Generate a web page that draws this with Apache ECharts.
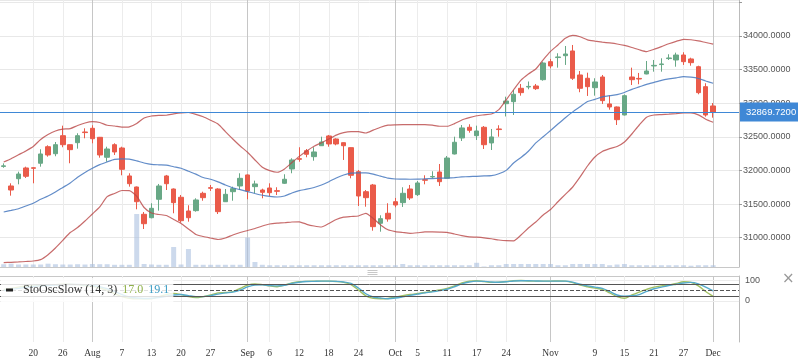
<!DOCTYPE html>
<html><head><meta charset="utf-8">
<script src="https://cdn.jsdelivr.net/npm/echarts@6/dist/echarts.min.js"></script>
<style>html,body{margin:0;padding:0;background:#fff}#c{width:798px;height:363px}</style>
</head><body><div id="c"></div>
<script>
// ---- data ----
const tickLabels = {4:'20',8:'26',12:'Aug',16:'7',20:'13',24:'20',28:'27',33:'Sep',36:'6',40:'12',44:'18',48:'24',53:'Oct',56:'5',60:'11',64:'17',68:'24',74:'Nov',80:'9',84:'15',88:'21',92:'27',96:'Dec'};
const slotCount = 100;
const categories = Array.from({length: slotCount}, (_, i) => tickLabels[i] || '');

const opens = [32060,31769,31877,32037,32040,32107,32353,32249,32517,32383,
32413,32572,32627,32493,32196,32383,32334,31918,31754,31348,
31297,31571,31918,31724,31601,31397,31402,31660,31744,31724,
31535,31684,31769,31933,31759,31709,31739,31699,31809,32022,
32175,32294,32205,32368,32513,32468,32413,32339,31982,31684,
31784,31214,31363,31535,31521,31724,31640,31863,31903,31977,
31883,32245,32483,32642,32517,32642,32409,32617,32993,33023,
33222,33241,33256,33350,33618,33679,33707,33777,33420,33371,
33231,33390,32989,32944,32825,33390,33369,33435,33554,33575,
33664,33643,33717,33658,33543,33246,32959];
const closes = [32068,31709,31947,31913,32032,32245,32230,32383,32383,32309,
32517,32563,32472,32230,32319,32275,32017,31803,31535,31208,
31437,31769,31803,31521,31253,31297,31561,31595,31735,31387,
31645,31729,31883,31695,31799,31675,31669,31690,31869,32156,
32166,32240,32275,32423,32394,32394,32368,31928,31620,31595,
31164,31283,31278,31486,31660,31591,31814,31854,31910,31833,
32185,32419,32632,32597,32587,32383,32498,32608,33033,33133,
33157,33250,33216,33598,33554,33688,33732,33371,33222,33246,
33316,33038,32944,32755,33112,33350,33360,33479,33563,33584,
33673,33717,33618,33603,33157,32825,32869.72];
const highs = [32105,31809,31982,32056,32047,32315,32374,32423,32666,32386,
32553,32627,32672,32498,32353,32404,32353,31958,31761,31382,
31512,31799,31933,31732,31635,31482,31586,31684,31784,31735,
31724,31759,31958,31940,31848,31729,31809,31750,31943,32181,
32345,32319,32345,32502,32528,32478,32416,32342,32007,31709,
31799,31333,31512,31591,31750,31784,31843,31928,31988,32096,
32215,32502,32676,32687,32666,32661,32617,32672,33097,33197,
33286,33323,33286,33618,33658,33743,33851,33866,33479,33454,
33371,33420,33112,32951,33130,33529,33450,33628,33643,33668,
33728,33752,33758,33677,33558,33297,33003];
const lows = [32040,31625,31794,31888,31809,32056,32205,32211,32345,32107,
32324,32478,32404,32190,32130,32230,31928,31759,31422,31129,
31288,31402,31709,31363,31223,31238,31387,31550,31695,31352,
31531,31550,31709,31571,31660,31586,31620,31635,31799,31958,
32130,32196,32145,32364,32353,32374,32156,31883,31471,31461,
31104,31089,31238,31452,31457,31561,31620,31794,31883,31769,
31883,32238,32438,32562,32453,32319,32304,32502,32803,32825,
33112,33207,33197,33335,33520,33529,33569,33346,33163,33108,
33112,32989,32904,32676,32818,33271,33282,33430,33469,33469,
33643,33543,33569,33558,33133,32800,32785];
const volumes = [28,33,25,25,25,25,33,28,25,25,
28,25,30,28,28,22,22,22,530,30,
25,22,22,200,25,180,22,22,22,22,
22,22,22,295,50,22,18,18,18,18,
18,18,18,18,18,18,18,18,18,18,
18,18,18,18,30,18,18,18,18,18,
18,18,18,18,42,5,18,18,30,30,
30,30,30,30,30,18,18,30,30,30,
30,30,18,25,30,18,18,18,18,18,
18,18,18,13,18,18,18];
const bbUpper = [32126,32175,32233,32290,32356,32461,32535,32587,32614,32623,
32669,32706,32725,32713,32672,32661,32643,32649,32699,32780,
32810,32818,32821,32840,32855,32862,32835,32798,32746,32691,
32578,32468,32364,32270,32156,32047,31998,31973,32022,32117,
32209,32290,32361,32412,32467,32525,32562,32577,32577,32557,
32599,32643,32673,32679,32681,32681,32681,32681,32673,32657,
32657,32697,32751,32785,32813,32827,32840,32905,33051,33200,
33343,33435,33509,33646,33771,33866,33967,34009,33988,33941,
33923,33908,33896,33881,33859,33829,33795,33768,33802,33842,
33884,33920,33950,33944,33927,33903,33880];
const bbMiddle = [31382,31405,31430,31472,31513,31571,31620,31680,31747,31814,
31898,31970,32032,32086,32127,32165,32171,32168,32142,32111,
32090,32084,32080,32055,32032,31988,31946,31895,31869,31830,
31784,31742,31714,31686,31657,31631,31614,31605,31620,31665,
31700,31721,31747,31784,31833,31888,31932,31959,31964,31964,
31946,31915,31886,31873,31872,31869,31870,31875,31879,31885,
31888,31894,31903,31909,31913,31918,31922,31950,32001,32111,
32193,32285,32409,32501,32594,32691,32785,32871,32948,33026,
33057,33093,33112,33127,33160,33206,33242,33280,33310,33340,
33361,33378,33395,33387,33368,33331,33297];
const bbLower = [30630,30634,30639,30646,30653,30674,30747,30847,30961,31076,
31152,31248,31353,31457,31610,31657,31702,31700,31616,31449,
31367,31345,31330,31271,31211,31129,31048,31018,30995,30973,
30995,31040,31077,31107,31137,31174,31204,31216,31222,31233,
31236,31199,31174,31159,31211,31271,31305,31315,31323,31363,
31286,31189,31117,31091,31077,31065,31073,31085,31085,31083,
31079,31055,31030,31013,31007,30998,30984,30966,30955,30954,
31040,31144,31233,31338,31419,31534,31645,31754,31903,32066,
32200,32282,32324,32355,32423,32542,32676,32792,32825,32831,
32838,32846,32855,32855,32827,32761,32716];
const stochK = [55,60,66,70,72,74,76,78,80,80,
78,74,70,62,50,35,20,12,9,9,
10,20,30,36,30,20,15,20,28,38,
40,44,60,76,82,78,72,68,76,86,
92,94,95,95,95,93,89,78,52,24,
12,10,11,17,24,30,35,40,46,52,
60,72,86,95,97,93,89,90,93,97,
98,96,95,95,95,96,95,88,76,68,
61,55,38,20,12,28,42,55,66,72,
76,84,92,89,72,45,21];
const stochD = [50,55,60,65,69,72,74,76,78,79,
79,77,74,68,58,45,30,18,13,11,
12,15,22,28,30,25,20,20,25,32,
38,42,52,67,76,77,74,72,75,84,
90,93,94,95,95,94,91,84,62,34,
18,13,10,13,19,26,32,38,43,49,
56,68,82,91,95,94,91,90,92,96,
97,97,96,95,95,95,95,90,80,72,
66,60,45,28,22,24,30,45,58,66,
74,80,86,89,82,66,48];
const stochLevels = [80, 50, 20];
const stochLegendValues = ['17.0', '19.1'];
const priceTickMax = 34000;
const lastPrice = closes[closes.length - 1];

// ---- chart ----
const chart = echarts.init(document.getElementById('c'));
const candleData = opens.map((o, i) => [o, closes[i], lows[i], highs[i]]);
const labelInterval = (idx, val) => val !== '';
const isMonth = s => isNaN(Number(s));
const vLines = categories.map((c, i) => c ? {
  xAxis: i,
  lineStyle: { color: isMonth(c) ? '#c6c6c6' : '#ececec', width: 1, type: 'solid' }
} : null).filter(Boolean);

const RED = '#ea5b4a', GREEN = '#68a886', PRICE = '#3f88d6';

chart.setOption({
  animation: false,
  backgroundColor: '#fff',
  title: {
    left: 1, top: 278,
    text: '{i|}{n|StoOscSlow (14, 3)} {g|' + stochLegendValues[0] + '} {b|' + stochLegendValues[1] + '}',
    backgroundColor: 'rgba(255,255,255,0.82)',
    padding: [3, 4, 3, 5],
    textStyle: { fontWeight: 'normal', rich: {
      i: { width: 7, height: 3, backgroundColor: '#222' },
      n: { fontFamily: 'Liberation Serif', fontSize: 12, fontWeight: 'normal', color: '#333', padding: [0, 0, 0, 10] },
      g: { fontFamily: 'Liberation Serif', fontSize: 12, fontWeight: 'normal', color: '#8fb04a' },
      b: { fontFamily: 'Liberation Serif', fontSize: 12, fontWeight: 'normal', color: '#3b9cc4' }
    } }
  },
  grid: [
    { left: 0, top: 0, width: 739, height: 267 },
    { left: 0, top: 276, width: 739, height: 66 }
  ],
  xAxis: [
    { type: 'category', gridIndex: 0, data: categories,
      axisLine: { show: true, lineStyle: { color: '#c8c8c8' } },
      axisTick: { show: false }, axisLabel: { show: false }, splitLine: { show: false } },
    { type: 'category', gridIndex: 1, data: categories,
      axisLine: { show: true, lineStyle: { color: '#c8c8c8' } },
      axisTick: { show: true, alignWithLabel: true, interval: labelInterval, length: 3, lineStyle: { color: '#bbb' } },
      axisLabel: { interval: labelInterval, fontFamily: 'Liberation Serif', fontSize: 9.5, color: '#333', margin: 6 },
      splitLine: { show: false } },
    { type: 'category', gridIndex: 1, position: 'top', data: categories,
      axisLine: { show: true, lineStyle: { color: '#c8c8c8' } },
      axisTick: { show: false }, axisLabel: { show: false }, splitLine: { show: false } }
  ],
  yAxis: [
    { type: 'value', gridIndex: 0, position: 'right', min: 30564, max: 34535, splitNumber: 8,
      axisLine: { show: true, lineStyle: { color: '#bbb' } },
      axisTick: { show: true, length: 3, lineStyle: { color: '#999' } },
      axisLabel: { showMinLabel: false, showMaxLabel: false, margin: 4,
        formatter: v => v > priceTickMax ? '' : v.toFixed(4), fontFamily: 'Liberation Sans', fontSize: 9, color: '#555' },
      splitLine: { show: true, lineStyle: { color: '#e8e8e8' } } },
    { type: 'value', gridIndex: 0, min: 0, max: 2670, show: false },
    { type: 'value', gridIndex: 1, position: 'right', min: -200, max: 120, interval: 100,
      axisLine: { show: true, lineStyle: { color: '#bbb' } },
      axisTick: { show: false },
      axisLabel: { margin: 6, formatter: v => (v === 0 || v === 100) ? String(v) : '',
        fontFamily: 'Liberation Sans', fontSize: 9, color: '#555' },
      splitLine: { show: false } }
  ],
  series: [
    { type: 'bar', name: 'Volume', xAxisIndex: 0, yAxisIndex: 1, data: volumes, barWidth: 5,
      itemStyle: { color: 'rgba(170,192,224,0.6)' }, silent: true,
      markLine: { silent: true, symbol: ['none', 'none'], z: 1, label: { show: false }, data: vLines } },
    { type: 'candlestick', name: 'Price', xAxisIndex: 0, yAxisIndex: 0, data: candleData, barWidth: 5,
      itemStyle: { color: GREEN, color0: RED, borderColor: GREEN, borderColor0: RED, borderWidth: 1 },
      markLine: { silent: true, symbol: ['none', 'none'],
        lineStyle: { color: PRICE, width: 1, type: 'solid', opacity: 1 },
        label: { show: true, position: 'end', distance: 1, formatter: () => lastPrice.toFixed(4),
          color: '#fff', backgroundColor: PRICE, padding: [5, 6, 4, 6],
          fontFamily: 'Liberation Sans', fontSize: 9.5 },
        data: [{ yAxis: lastPrice, lineStyle: { color: PRICE, width: 1, type: 'solid' } }] } },
    { type: 'line', name: 'BB upper', xAxisIndex: 0, yAxisIndex: 0, data: bbUpper, symbol: 'none', smooth: 0.2,
      lineStyle: { color: 'rgba(185,70,70,0.8)', width: 1.2 } },
    { type: 'line', name: 'BB middle', xAxisIndex: 0, yAxisIndex: 0, data: bbMiddle, symbol: 'none', smooth: 0.2,
      lineStyle: { color: 'rgba(70,120,190,0.85)', width: 1.2 } },
    { type: 'line', name: 'BB lower', xAxisIndex: 0, yAxisIndex: 0, data: bbLower, symbol: 'none', smooth: 0.2,
      lineStyle: { color: 'rgba(185,70,70,0.8)', width: 1.2 } },
    { type: 'line', name: '%K', xAxisIndex: 1, yAxisIndex: 2, data: stochK, symbol: 'none', smooth: 0.3,
      lineStyle: { color: '#a2c062', width: 1.4 },
      markLine: { silent: true, symbol: ['none', 'none'], z: 1, label: { show: false },
        data: vLines.concat([
          { yAxis: 100, lineStyle: { color: '#ececec', width: 1, type: 'solid' } },
          { yAxis: 0, lineStyle: { color: '#ececec', width: 1, type: 'solid' } }
        ]) } },
    { type: 'line', name: '%D', xAxisIndex: 1, yAxisIndex: 2, data: stochD, symbol: 'none', smooth: 0.3,
      lineStyle: { color: '#55aacb', width: 1.4 },
      markLine: { silent: true, symbol: ['none', 'none'], label: { show: false },
        data: stochLevels.map(v => ({ yAxis: v,
          lineStyle: { color: '#555', width: 1, type: v === 50 ? 'dashed' : 'solid' } })) } }
  ],
  graphic: [
    { type: 'group', left: 365, top: 268, children: [
      { type: 'line', shape: { x1: 0, y1: 0.5, x2: 10, y2: 0.5 }, style: { stroke: '#c8c8c8', lineWidth: 1 } },
      { type: 'line', shape: { x1: 0, y1: 2.5, x2: 10, y2: 2.5 }, style: { stroke: '#c8c8c8', lineWidth: 1 } },
      { type: 'line', shape: { x1: 0, y1: 4.5, x2: 10, y2: 4.5 }, style: { stroke: '#c8c8c8', lineWidth: 1 } }
    ] },
    { type: 'text', left: 782, top: 272, style: { text: '×', font: '15px DejaVu Sans', fill: '#999' } }
  ]
});
</script>
</body></html>
